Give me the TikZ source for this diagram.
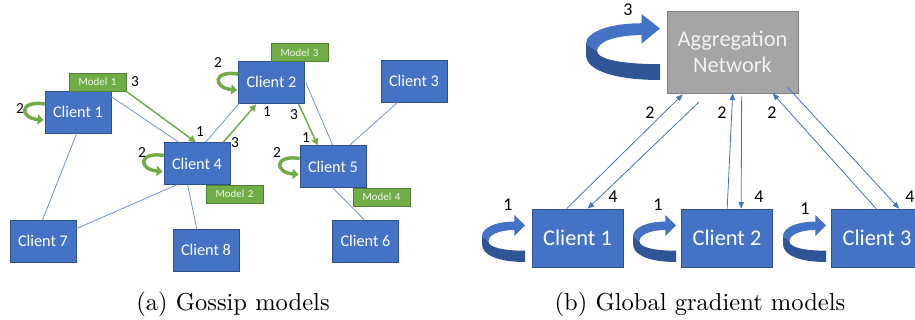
\documentclass[tikz,border=0pt]{standalone}
\usepackage{fontspec}
\setsansfont{Carlito}
\newfontfamily\capfont{lmroman10-regular.otf}
\usetikzlibrary{arrows.meta,calc}

\definecolor{boxblue}{HTML}{4472C4}
\definecolor{boxedge}{HTML}{2F528F}
\definecolor{modelgreen}{HTML}{70AD47}
\definecolor{greenedge}{HTML}{507E32}
\definecolor{aggrey}{HTML}{A5A5A5}
\definecolor{greyedge}{HTML}{7F7F7F}
\definecolor{linkblue}{RGB}{114,148,212}
\definecolor{ringside}{HTML}{2F5597}

\tikzset{
  client/.style={draw=boxedge, fill=boxblue, line width=0.5pt,
    minimum width=49.5pt, minimum height=31.5pt, inner sep=0pt,
    text=white, font=\sffamily\fontsize{12.2}{14}\selectfont},
  bigclient/.style={client, minimum width=68.25pt, minimum height=43.5pt,
    font=\sffamily\fontsize{16.8}{20}\selectfont},
  model/.style={draw=greenedge, fill=modelgreen, line width=0.5pt,
    minimum width=42.75pt, minimum height=13.5pt, inner sep=0pt,
    text=white!88!modelgreen, font=\sffamily\fontsize{8.2}{9}\selectfont},
  aggbox/.style={draw=greyedge, fill=aggrey, line width=0.5pt,
    minimum width=98.25pt, minimum height=61.5pt, inner sep=0pt,
    align=center, text=white!95!black,
    font=\sffamily\fontsize{16.8}{20}\selectfont},
  link/.style={draw=linkblue, line width=0.6pt},
  gossip/.style={draw=modelgreen, line width=1.1pt,
    -{Triangle[length=5pt,width=5pt]}},
  selfloop/.style={draw=modelgreen, line width=2.6pt,
    -{Triangle[length=4.5pt,width=7.5pt]}},
  exchange/.style={draw=boxblue, line width=0.6pt,
    -{Triangle[length=5pt,width=4pt]}},
  num/.style={font=\sffamily\fontsize{11.5}{12}\selectfont, inner sep=0pt},
  bignum/.style={font=\sffamily\fontsize{13.5}{14}\selectfont, inner sep=0pt},
  subcaption/.style={font=\capfont\fontsize{18.4}{22}\selectfont, inner sep=0pt, anchor=base},
  % 3D ribbon arrow curling round into a box, drawn in a unit square (y down)
  ringarrow/.pic={
    \fill[ringside] (0,0.45) -- (0,0.62) .. controls (0,0.86) and (0.4,1) .. (1,1)
      -- (1,0.76) .. controls (0.5,0.76) and (0.15,0.69) .. (0.15,0.56) -- cycle;
    \fill[boxblue] (0.75,0.14) .. controls (0.3,0.14) and (0,0.28) .. (0,0.45)
      -- (0.15,0.56) .. controls (0.15,0.42) and (0.4,0.32) .. (0.75,0.32)
      -- (0.75,0.45) -- (1,0.22) -- (0.75,0) -- cycle;
  }
}

\begin{document}
\begin{tikzpicture}[x=0.75pt,y=-0.75pt]
\useasboundingbox (0,0) rectangle (915,320);
\clip (0,0) rectangle (915,320);

% ---------------- (a) gossip models ----------------
\node[client] (c1) at (78,112) {Client 1};
\node[client] (c2) at (271.5,82) {Client 2};
\node[client] (c3) at (414,81) {Client 3};
\node[client] (c4) at (197,163.5) {Client 4};
\node[client] (c5) at (333,166.5) {Client 5};
\node[client] (c6) at (365.5,241) {Client 6};
\node[client] (c7) at (43,241) {Client 7};
\node[client] (c8) at (206,250) {Client 8};

\node[model] (m1) at (97.5,82) {Model\,\,1};
\node[model] (m2) at (234.5,194) {Model\,\,2};
\node[model] (m3) at (299.5,52.5) {Model\,\,3};
\node[model] (m4) at (381.5,197) {Model\,\,4};

% neighbourhood links
\draw[link] ($(c1.north east)+(0,6)$) -- ($(c4.north west)+(15,0)$);
\draw[link] ($(c1.south west)+(32,0)$) -- ($(c7.north west)+(33,0)$);
\draw[link] ($(c4.north west)+(42,0)$) -- ($(c2.south west)+(1,0)$);
\draw[link] ($(c4.south west)+(13,0)$) -- ($(c7.north east)+(0,9)$);
\draw[link] ($(c4.south west)+(24,0)$) -- ($(c8.north west)+(24,0)$);
\draw[link] ($(c2.north east)+(1,22)$) -- ($(c5.north west)+(33,0)$);
\draw[link] ($(c3.south west)+(17,0)$) -- ($(c5.north west)+(50,0)$);
\draw[link] ($(c5.south west)+(33,0)$) -- ($(c6.north west)+(32,0)$);

% model passing
\draw[gossip] (m1.south east) -- ($(c4.north west)+(32,0)$);
\draw[gossip] ($(c4.north east)+(-7,0)$) -- ($(c2.south west)+(18,1)$);
\draw[gossip] ($(c2.south east)+(-6,1)$) -- ($(c5.north west)+(18,0)$);

\node[num] (n13) at (135,82) {3};
\node[num] (n11) at (200,132) {1};
\node[num] (n43) at (235,143) {3};
\node[num] (n21) at (267,112) {1};
\node[num] (n23) at (294,115) {3};
\node[num] (n51) at (306,138) {1};

% local training loops
\foreach \c in {c1,c2,c4,c5}
  \draw[selfloop] ($(\c.west)+(0,-8)$) .. controls +(-26,-4) and +(-24,-2) .. ($(\c.west)+(-1,8)$);

\node[num] (l1) at (20,109) {2};
\node[num] (l2) at (218,63) {2};
\node[num] (l4) at (142,153) {2};
\node[num] (l5) at (277,153) {2};

\node[subcaption] (capa) at (233,311) {(a) Gossip models};

% ---------------- (b) global gradient models ----------------
\node[aggbox] (agg) at (732.5,52) {Aggregation\\Network};
\node[bigclient] (r1) at (577.5,238) {Client 1};
\node[bigclient] (r2) at (727,238) {Client 2};
\node[bigclient] (r3) at (877,238) {Client 3};

\pic[xscale=74, yscale=66] at (586,14) {ringarrow};
\pic[xscale=43, yscale=47] at (482,215) {ringarrow};
\pic[xscale=43, yscale=47] at (633,215) {ringarrow};
\pic[xscale=43, yscale=47] at (783,215) {ringarrow};

\draw[exchange] ($(r1.north west)+(35,0)$) -- ($(agg.south west)+(16,1)$);
\draw[exchange] ($(agg.south west)+(32,9)$) -- ($(r1.north west)+(56,0)$);
\draw[exchange] ($(r2.north west)+(46,0)$) -- ($(agg.south west)+(66,0)$);
\draw[exchange] ($(agg.south west)+(75,3)$) -- ($(r2.north west)+(60,0)$);
\draw[exchange] ($(r3.north west)+(45,0)$) -- ($(agg.south west)+(106,0)$);
\draw[exchange] ($(agg.south west)+(121,-6)$) -- ($(r3.north west)+(68,0)$);

\node[bignum] (k3) at (628,10) {3};
\node[bignum] (k21) at (650,113) {2};
\node[bignum] (k22) at (722,113) {2};
\node[bignum] (k23) at (772,113) {2};
\node[bignum] (k41) at (613,197) {4};
\node[bignum] (k42) at (759,197) {4};
\node[bignum] (k43) at (910,197) {4};
\node[bignum] (k11) at (508,205) {1};
\node[bignum] (k12) at (658,205) {1};
\node[bignum] (k13) at (805,209) {1};

\node[subcaption] (capb) at (700,311) {(b) Global gradient models};
\end{tikzpicture}
\end{document}
